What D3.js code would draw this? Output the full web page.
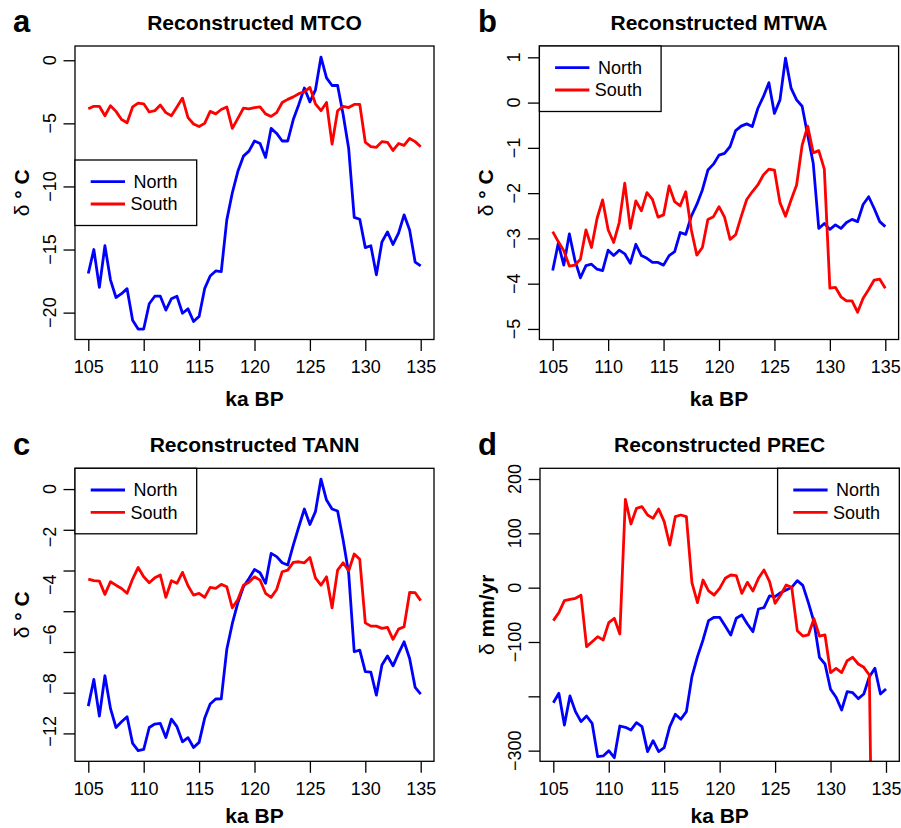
<!DOCTYPE html>
<html>
<head>
<meta charset="utf-8">
<script src="https://cdn.jsdelivr.net/npm/d3@7"></script>
<style>
  body { margin: 0; background: #fff; }
  svg { display: block; }
  text { font-family: "Liberation Sans", Arial, sans-serif; fill: #000; }
</style>
</head>
<body>
<svg width="901" height="828"></svg>
<script>
// ---------- data (0.5 ka steps) ----------
const ka = [105,105.5,106,106.5,107,107.5,108,108.5,109,109.5,
            110,110.5,111,111.5,112,112.5,113,113.5,114,114.5,
            115,115.5,116,116.5,117,117.5,118,118.5,119,119.5,
            120,120.5,121,121.5,122,122.5,123,123.5,124,124.5,
            125,125.5,126,126.5,127,127.5,128,128.5,129,129.5,
            130,130.5,131,131.5,132,132.5,133,133.5,134,134.5,135];

const mtcoNorth = [-16.9,-15.0,-18.0,-14.7,-17.4,-18.8,-18.5,-18.1,-20.6,-21.3,
  -21.3,-19.3,-18.7,-18.7,-19.8,-18.9,-18.7,-20.05,-19.7,-20.7,
  -20.3,-18.1,-17.1,-16.7,-16.75,-12.65,-10.5,-8.8,-7.6,-7.2,
  -6.4,-6.6,-7.7,-5.4,-5.8,-6.4,-6.4,-4.7,-3.5,-2.2,
  -3.3,-2.35,0.25,-1.4,-2.0,-2.0,-4.3,-7.0,-12.45,-12.6,
  -14.85,-14.7,-17.0,-14.4,-13.6,-14.6,-13.7,-12.25,-13.45,-16.0,-16.3];
const mtcoSouth = [-3.85,-3.65,-3.65,-4.4,-3.6,-4.05,-4.7,-4.95,-3.7,-3.4,
  -3.45,-4.1,-4.0,-3.55,-4.15,-4.4,-3.7,-3.0,-4.55,-5.05,
  -5.25,-5.0,-4.05,-4.25,-3.9,-3.7,-5.4,-4.6,-3.8,-3.85,
  -3.75,-3.7,-4.25,-4.45,-4.15,-3.35,-3.1,-2.9,-2.65,-2.5,
  -2.15,-3.45,-4.0,-3.35,-6.65,-4.0,-3.65,-3.75,-3.5,-3.5,
  -6.5,-6.85,-6.9,-6.45,-6.5,-7.15,-6.6,-6.75,-6.2,-6.45,-6.85];

const mtwaNorth = [-3.71,-3.11,-3.59,-2.90,-3.48,-3.87,-3.60,-3.57,-3.68,-3.71,
  -3.26,-3.38,-3.26,-3.34,-3.55,-3.13,-3.38,-3.44,-3.53,-3.53,
  -3.59,-3.38,-3.29,-2.87,-2.91,-2.51,-2.25,-1.93,-1.49,-1.36,
  -1.16,-1.12,-0.97,-0.62,-0.52,-0.47,-0.53,-0.13,0.13,0.44,
  -0.24,0.06,0.98,0.32,0.06,-0.08,-0.72,-1.34,-2.78,-2.67,
  -2.80,-2.70,-2.78,-2.65,-2.58,-2.63,-2.25,-2.08,-2.34,-2.63,-2.74];
const mtwaSouth = [-2.85,-3.07,-3.27,-3.61,-3.59,-3.46,-2.81,-3.20,-2.56,-2.15,
  -2.81,-3.09,-2.65,-1.78,-2.78,-2.17,-2.39,-1.99,-2.14,-2.53,
  -2.48,-1.84,-2.19,-2.28,-1.97,-2.81,-3.37,-3.20,-2.58,-2.52,
  -2.30,-2.53,-3.02,-2.92,-2.52,-2.14,-1.97,-1.82,-1.60,-1.47,
  -1.49,-2.21,-2.51,-2.15,-1.82,-0.94,-0.52,-1.11,-1.06,-1.47,
  -4.10,-4.08,-4.29,-4.38,-4.38,-4.63,-4.32,-4.13,-3.92,-3.90,-4.10];

const tannNorth = [-10.66,-9.35,-11.15,-9.17,-10.77,-11.71,-11.43,-11.18,-12.49,-12.85,
  -12.79,-11.71,-11.54,-11.51,-12.20,-11.30,-11.67,-12.41,-12.21,-12.69,
  -12.44,-11.26,-10.56,-10.31,-10.30,-7.87,-6.60,-5.58,-4.80,-4.39,
  -3.95,-4.11,-4.63,-3.16,-3.32,-3.62,-3.73,-2.75,-1.85,-0.98,
  -1.74,-1.11,0.49,-0.54,-0.98,-1.08,-2.50,-4.14,-7.99,-7.91,
  -8.97,-8.99,-10.12,-8.64,-8.20,-8.68,-8.07,-7.50,-8.32,-9.74,-10.07];
const tannSouth = [-4.42,-4.50,-4.52,-5.17,-4.55,-4.72,-4.88,-5.12,-4.42,-3.85,
  -4.31,-4.60,-4.36,-4.22,-5.32,-4.50,-4.63,-4.09,-4.75,-5.21,
  -5.12,-5.32,-4.83,-4.88,-4.68,-4.80,-5.83,-5.42,-4.72,-4.58,
  -4.31,-4.47,-5.12,-5.32,-4.93,-4.06,-3.98,-3.60,-3.57,-3.62,
  -3.36,-4.36,-4.72,-4.31,-5.83,-3.98,-3.62,-4.01,-3.19,-3.45,
  -6.57,-6.73,-6.73,-6.84,-6.79,-7.38,-6.88,-6.76,-5.08,-5.09,-5.48];

const precNorth = [-211.7,-194.5,-252.8,-199.4,-228.2,-246.6,-236.2,-249.7,-311.0,-309.8,
  -300.0,-312.9,-254.6,-257.1,-262.0,-248.5,-255.8,-301.8,-281.6,-301.8,
  -294.5,-255.8,-233.1,-242.3,-228.2,-163.8,-127.0,-96.3,-60.7,-54.6,
  -54.6,-70.6,-87.1,-56.4,-50.3,-66.9,-81.0,-39.3,-36.8,-15.3,
  -16.6,-9.2,-4.3,0.6,12.9,4.3,-27.6,-62.6,-128.2,-140.5,
  -187.1,-201.8,-225.2,-191.4,-193.3,-204.3,-195.7,-163.8,-148.5,-195.7,-186.5];
const precSouth = [-60.7,-46.0,-23.9,-21.5,-19.6,-14.1,-108.6,-99.4,-90.2,-96.3,
  -64.4,-56.4,-85.3,162.6,117.2,146.0,149.1,133.7,127.6,144.8,
  121.5,78.5,130.7,133.7,130.7,9.2,-27.6,14.1,-6.1,-13.5,
  -1.2,17.2,23.3,22.1,-10.4,9.8,-6.1,17.2,32.5,11.0,
  -28.8,-13.5,4.9,0.6,-79.1,-89.0,-87.1,-57.1,-89.0,-87.1,
  -156.4,-148.5,-156.4,-134.4,-128.2,-140.5,-146.6,-160.7,-900,-900,-900];

// axis ticks and labels
const xTicks = [105,110,115,120,125,130,135];
const mtcoTicks = [0,-5,-10,-15,-20];
const mtwaTicks = [1,0,-1,-2,-3,-4,-5];
const tannTicks = [0,-2,-4,-6,-8,-10,-12];
const tannLabels = ["0","−2","−4","−6","−8","−12"];
const tannLabelAt = [0,-2.35,-4.7,-7.15,-9.55,-11.9];
const precTicks = [200,100,0,-100,-200,-300];
const precLabels = ["200","100","0","−100","","−300"];

const seriesNames = ["North","South"];
const seriesColors = ["#0000ff","#ff0000"];

const fmt = v => String(v).replace("-","−");

// ---------- panels ----------
const panels = [
  { id:"a", title:"Reconstructed MTCO", ylab:["δ"," ° C"], series:[mtcoNorth, mtcoSouth],
    ydom:[-22.13,1.13], ticks:mtcoTicks, labels:mtcoTicks.map(fmt), labelAt:mtcoTicks,
    box:{l:75,r:434,t:46,b:339.5}, letter:[13,32], legend:"left-mid", legendTop:160 },
  { id:"b", title:"Reconstructed MTWA", ylab:["δ"," ° C"], series:[mtwaNorth, mtwaSouth],
    ydom:[-5.233,1.25], ticks:mtwaTicks, labels:mtwaTicks.map(fmt), labelAt:mtwaTicks,
    box:{l:539.4,r:898.6,t:46,b:339.5}, letter:[478,32], legend:"left" },
  { id:"c", title:"Reconstructed TANN", ylab:["δ"," ° C"], series:[tannNorth, tannSouth],
    ydom:[-13.37,1.02], ticks:tannTicks, labels:tannLabels, labelAt:tannLabelAt,
    box:{l:75,r:434,t:468.3,b:761.3}, letter:[13,455], legend:"left" },
  { id:"d", title:"Reconstructed PREC", ylab:["δ"," mm/yr"], series:[precNorth, precSouth],
    ydom:[-319.6,219.7], ticks:precTicks, labels:precLabels, labelAt:precTicks,
    box:{l:540,r:899.3,t:468.3,b:761.3}, letter:[478,455], legend:"right" }
];

const svg = d3.select("svg");
const FS = 18, LW = 2.8, AXW = 1.3, TICK = 11.5;
const LEG_W = 121.7, LEG_H = 65.5;

panels.forEach(p => {
  const B = p.box;
  const g = svg.append("g");
  const pad = (xTicks[xTicks.length-1] - xTicks[0]) * 0.04;
  const x = d3.scaleLinear().domain([xTicks[0]-pad, xTicks[xTicks.length-1]+pad]).range([B.l, B.r]);
  const y = d3.scaleLinear().domain(p.ydom).range([B.b, B.t]);

  // clip
  svg.append("defs").append("clipPath").attr("id","clip-"+p.id)
    .append("rect").attr("x",B.l).attr("y",B.t).attr("width",B.r-B.l).attr("height",B.b-B.t);

  // x axis
  const gx = g.append("g").attr("transform",`translate(0,${B.b})`)
    .call(d3.axisBottom(x).tickValues(xTicks).tickSize(TICK).tickFormat(d3.format("d")));
  gx.select(".domain").remove();
  gx.selectAll(".tick line").attr("stroke","#000").attr("stroke-width",AXW);
  gx.selectAll(".tick text").attr("y",33.5).attr("dy",0)
    .attr("font-size",FS).attr("font-family",null).attr("fill","#000");

  // y axis (labels rotated, as in R)
  const gy = g.append("g").attr("transform",`translate(${B.l},0)`)
    .call(d3.axisLeft(y).tickValues(p.ticks).tickSize(TICK).tickFormat(""));
  gy.select(".domain").remove();
  gy.selectAll(".tick line").attr("stroke","#000").attr("stroke-width",AXW);
  gy.selectAll(".tick text").remove();
  p.labels.forEach((lab,i) => {
    g.append("text")
      .attr("transform",`translate(${B.l-19.5},${y(p.labelAt[i])}) rotate(-90)`)
      .attr("text-anchor","middle").attr("font-size",FS).text(lab);
  });

  // lines
  const line = d3.line().x((d,i) => x(ka[i])).y(d => y(d));
  const gl = g.append("g").attr("clip-path",`url(#clip-${p.id})`);
  p.series.forEach((s,k) => {
    gl.append("path").datum(s).attr("d",line)
      .attr("fill","none").attr("stroke",seriesColors[k]).attr("stroke-width",LW)
      .attr("stroke-linejoin","round");
  });

  // box
  g.append("rect").attr("x",B.l).attr("y",B.t).attr("width",B.r-B.l).attr("height",B.b-B.t)
    .attr("fill","none").attr("stroke","#000").attr("stroke-width",AXW);

  // legend
  const lx = p.legend === "right" ? B.r - LEG_W : B.l;
  const ly = p.legend === "left-mid" ? p.legendTop : B.t;
  const gL = g.append("g").attr("transform",`translate(${lx},${ly})`);
  gL.append("rect").attr("width",LEG_W).attr("height",LEG_H)
    .attr("fill","#fff").attr("stroke","#000").attr("stroke-width",AXW);
  seriesNames.forEach((nm,k) => {
    const yy = 21.7 + k*22.3;
    gL.append("line").attr("x1",15.7).attr("x2",50).attr("y1",yy).attr("y2",yy)
      .attr("stroke",seriesColors[k]).attr("stroke-width",LW);
    gL.append("text").attr("x",102.5).attr("y",yy).attr("dy","0.35em")
      .attr("text-anchor","end").attr("font-size",FS).text(nm);
  });

  // titles
  const cx = (B.l + B.r) / 2;
  g.append("text").attr("x",cx).attr("y",B.t-16.5).attr("text-anchor","middle")
    .attr("font-size",21).attr("font-weight","bold").text(p.title);
  g.append("text").attr("x",p.letter[0]).attr("y",p.letter[1])
    .attr("font-size",31).attr("font-weight","bold").text(p.id);
  g.append("text").attr("x",cx).attr("y",Math.min(B.b+66, 822.5)).attr("text-anchor","middle")
    .attr("font-size",21).attr("font-weight","bold").text("ka BP");
  const yt = g.append("text")
    .attr("transform",`translate(${B.l-46.5},${(B.t+B.b)/2}) rotate(-90)`)
    .attr("text-anchor","middle").attr("font-size",21).attr("font-weight","bold");
  yt.append("tspan").attr("font-weight","normal").text(p.ylab[0]);
  yt.append("tspan").text(p.ylab[1]);
});
</script>
</body>
</html>
